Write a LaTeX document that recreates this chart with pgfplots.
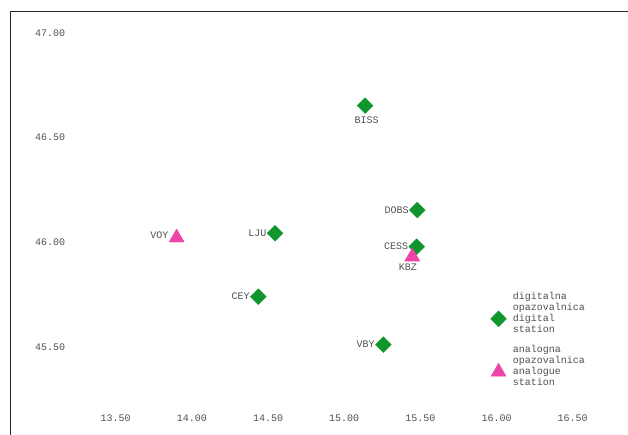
\documentclass[border=0pt]{standalone}
\usepackage{fontspec}
\setmainfont{Liberation Mono}
\usepackage{pgfplots}
\pgfplotsset{compat=1.18}
\usepackage{pgfplotstable}
\definecolor{stgreen}{RGB}{16,150,44}
\definecolor{stpink}{RGB}{236,68,168}
\definecolor{txt}{RGB}{80,80,80}
\newcommand\labelfont{\fontsize{10bp}{11bp}\selectfont}

% digital stations, label to the left
\pgfplotstableread{
x y name
15.480 46.154 DOBS
15.476 45.979 CESS
14.546 46.043 LJU
14.436 45.740 CEY
15.257 45.511 VBY
}\digleft
% digital stations, label below
\pgfplotstableread{
x y name
15.137 46.653 BISS
}\digbelow
% analogue stations, label to the left
\pgfplotstableread{
x y name
13.900 46.022 VOY
}\analeft
% analogue stations, label below
\pgfplotstableread{
x y name
15.447 45.931 KBZ
}\anabelow

\begin{document}
\begin{tikzpicture}
\useasboundingbox (0,0) rectangle (628bp,435bp);
\clip (0,0) rectangle (628bp,435bp);
\begin{axis}[
  at={(10bp,423bp)}, anchor=north west, scale only axis,
  width=629.7bp, height=433.3bp,
  xmin=12.806, xmax=16.94, ymin=45.03, ymax=47.1003,
  xtick={13.5,14,14.5,15,15.5,16,16.5},
  ytick={45.5,46,46.5,47},
  major tick length=0pt,
  axis line style={line width=1bp, black!85},
  /pgf/number format/.cd, fixed, fixed zerofill, precision=2, assume math mode=true,
  /pgfplots/.cd,
  every tick label/.append style={font=\labelfont, text=txt, inner sep=0pt},
  xticklabel style={anchor=center, yshift=27.3bp},
  yticklabel style={anchor=west, xshift=25bp},
  legend style={draw=none, fill=none, at={(axis cs:15.953,45.763)}, anchor=north west,
    inner sep=0pt, outer sep=0pt, row sep=9bp, column sep=5bp, font=\labelfont,
    nodes={inner sep=0pt, text depth={}, text=txt}},
  legend cell align=left,
  legend image code/.code={\draw[#1] plot coordinates {(0bp,-5bp)}; \path (-9bp,13bp) (9bp,-13bp);},
  lbl/.style={point meta=explicit symbolic, nodes near coords,
    every node near coord/.append style={inner sep=0pt, text=txt, font=\labelfont, #1}},
  dig/.style={only marks, mark=square*, mark size=5.6bp,
    mark options={rotate=45, fill=stgreen, draw=stgreen}},
  ana/.style={only marks, mark=triangle*, mark size=8.7bp,
    mark options={fill=stpink, draw=stpink}},
]
\addplot[dig, forget plot, lbl={anchor=east, xshift=-8.5bp}] table[x=x, y=y, meta=name]{\digleft};
\addplot[dig, forget plot, lbl={anchor=north, xshift=1.5bp, yshift=-10.7bp}] table[x=x, y=y, meta=name]{\digbelow};
\addplot[ana, forget plot, lbl={anchor=east, xshift=-8bp, yshift=2bp}] table[x=x, y=y, meta=name]{\analeft};
\addplot[ana, forget plot, lbl={anchor=north, xshift=-4.5bp, yshift=-6.7bp}] table[x=x, y=y, meta=name]{\anabelow};
\addlegendimage{dig}
\addlegendentry{\begin{tabular}{@{}l@{}}digitalna\\opazovalnica\\digital\\station\end{tabular}}
\addlegendimage{ana}
\addlegendentry{\begin{tabular}{@{}l@{}}analogna\\opazovalnica\\analogue\\station\end{tabular}}
\end{axis}
\end{tikzpicture}
\end{document}
